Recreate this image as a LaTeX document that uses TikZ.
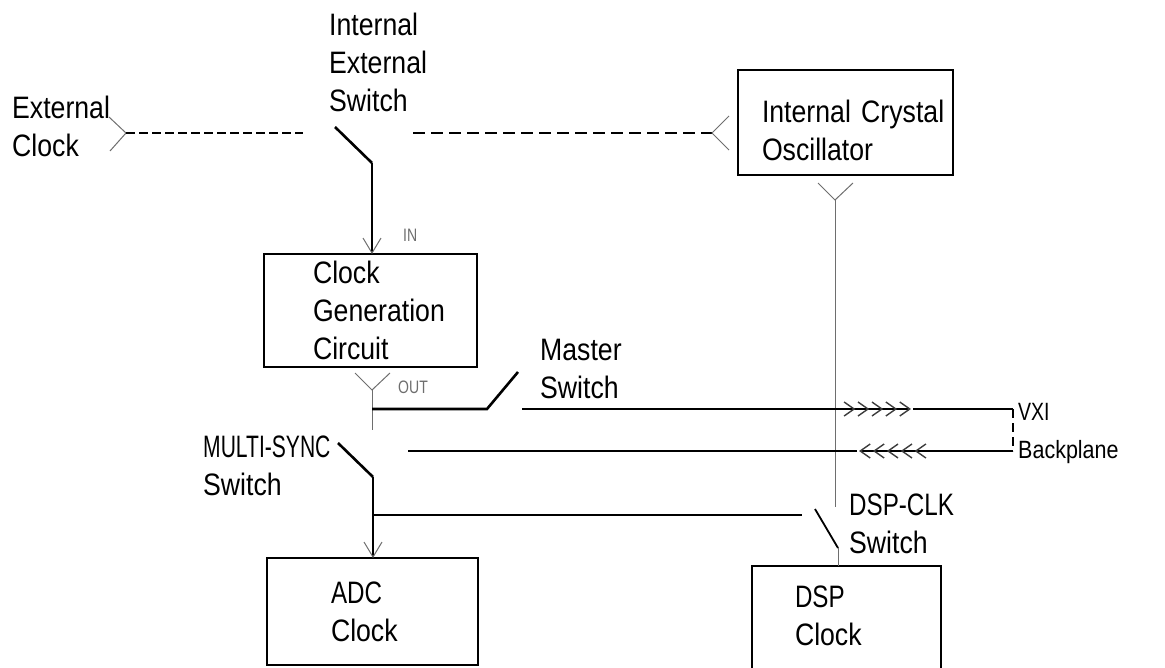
\documentclass[tikz,border=0pt]{standalone}
\usepackage{fontspec}
\setmainfont{Liberation Sans}[FakeStretch=0.86]
\newfontfamily\narrowfont{Liberation Sans}[FakeStretch=0.78]
\newfontfamily\condfont{Liberation Sans}[FakeStretch=0.68]
\usepackage{tikz}
\usetikzlibrary{arrows.meta,calc}
\definecolor{ThinGray}{HTML}{6E6E6E}
\definecolor{ChevGray}{HTML}{3C3C3C}
\newcommand{\bigtxt}{\fontsize{31}{38}\selectfont}
\newcommand{\midtxt}{\fontsize{25}{38}\selectfont}
\newcommand{\tinytxt}{\fontsize{18}{20}\selectfont}

\begin{document}
\begin{tikzpicture}[
  x=1pt, y=-1pt,
  chev/.tip={Straight Barb[length=10pt, width=14pt, line width=1.4pt 0, sep=2pt, color=ChevGray]},
  box/.style={rectangle, draw, line width=2.6pt, outer sep=0pt, anchor=north west,
              align=left, font=\bigtxt, inner ysep=0pt},
  lbl/.style={inner sep=0pt, anchor=base west, align=left, font=\bigtxt},
  tag/.style={inner sep=0pt, anchor=base west, font=\tinytxt\narrowfont, text=ThinGray},
  wire/.style={line width=2.6pt},
  sw/.style={line width=1.8pt},
  fine/.style={line width=1pt, color=ThinGray},
  barb/.style={-{Straight Barb[length=15pt, width=18pt, line width=1pt 0, color=ThinGray]}},
  fwd/.style={-{chev[]chev[]chev[]chev[]chev[]}},
]
  \useasboundingbox (0,0) rectangle (1165,668);

  % Boxes
  \node[box, text width=115pt, inner xsep=49pt, minimum height=113pt] (gen) at (264,254) {Clock\\\mbox{Generation}\\Circuit};
  \node[box, text width=167pt, inner xsep=24pt, minimum height=105pt, text height=38pt] (osc) at (738,70) {\mbox{Internal Crystal}\\Oscillator};
  \node[box, text width=83pt, inner xsep=64pt, minimum height=107pt] (adc) at (267,558) {{\narrowfont ADC}\\Clock};
  \node[box, text width=103pt, inner xsep=43pt, minimum height=107pt, text height=14pt] (dsp) at (752,566) {{\narrowfont DSP}\\Clock};

  % Labels (placed at the baseline of their last line)
  \node[lbl] (extclk) at (12,157) {External\\Clock};
  \node[lbl] (iesw) at (329,112) {Internal\\External\\Switch};
  \node[lbl] (mstsw) at (540,398) {Master\\Switch};
  \node[lbl] (msync) at (203,495) {{\condfont MULTI-SYNC}\\Switch};
  \node[lbl] (dspsw) at (849,553) {{\narrowfont DSP-CLK}\\Switch};
  \node[lbl, font=\midtxt] (vxi) at (1018,458) {{\narrowfont VXI}\\Backplane};
  \node[tag] (intag) at (403,242) {IN};
  \node[tag] (outtag) at (398,393) {OUT};

  % Switch points
  \coordinate (extin) at (126,133);
  \coordinate (extend) at (303,133);
  \coordinate (swtop) at (335,127);
  \coordinate (swpiv) at (372,163);
  \coordinate (intstart) at (413,133);
  \coordinate (oscin) at (712,133);
  \coordinate (oscout) at (835,200);
  \coordinate (dsptap) at (835,507);
  \coordinate (genout) at (372,390);
  \coordinate (genlow) at (372,430);
  \coordinate (mstart) at (372,409);
  \coordinate (mpiv) at (487,409);
  \coordinate (mtop) at (518,372);
  \coordinate (mnext) at (522,409);
  \coordinate (fwdend) at (913,409);
  \coordinate (vxitop) at (1013,409);
  \coordinate (vxibot) at (1013,451);
  \coordinate (bckend) at (857,451);
  \coordinate (bckstart) at (408,451);
  \coordinate (mstop) at (338,443);
  \coordinate (mspiv) at (373,477);
  \coordinate (dspbus) at (373,515);
  \coordinate (dspbusend) at (802,515);
  \coordinate (dspswtop) at (815,509);
  \coordinate (dspswbot) at (838,548);

  % Clock sources
  \draw[fine] ($(extin)+(-17,-16)$) -- (extin) -- ($(extin)+(-16,18)$);
  \draw[wire, dash pattern=on 9pt off 4pt] (extin) -- (extend);
  \draw[line width=1.8pt, dash pattern=on 12pt off 6pt] (intstart) -- (oscin);
  \draw[fine] ($(oscin)+(17,-17)$) -- (oscin) -- ($(oscin)+(17,17)$);
  \draw[wire] (swtop) -- (swpiv);
  \draw[wire, barb] (swpiv) -- (swpiv |- gen.north);

  % Outputs
  \draw[fine] ($(oscout)+(-17,-17)$) -- (oscout) -- ($(oscout)+(18,-17)$);
  \draw[fine] (oscout) -- (dsptap);
  \draw[fine] ($(genout)+(-17,-17)$) -- (genout) -- ($(genout)+(18,-17)$);
  \draw[fine] (genout) -- (genlow);

  % Master switch and backplane
  \draw[wire] (mstart) -- (mpiv) -- (mtop);
  \draw[wire, fwd] (mnext) -- (fwdend);
  \draw[wire] (fwdend) -- (vxitop);
  \draw[wire, dash pattern=on 9pt off 5pt] (vxitop) -- (vxibot);
  \draw[wire, fwd] (vxibot) -- (bckend);
  \draw[wire] (bckend) -- (bckstart);

  % MULTI-SYNC and DSP-CLK switches
  \draw[wire] (mstop) -- (mspiv);
  \draw[wire, barb] (mspiv) -- (mspiv |- adc.north);
  \draw[wire] (dspbus) -- (dspbusend);
  \draw[sw] (dspswtop) -- (dspswbot);
  \draw[fine] (dspswbot) -- (dspswbot |- dsp.north);
\end{tikzpicture}
\end{document}
